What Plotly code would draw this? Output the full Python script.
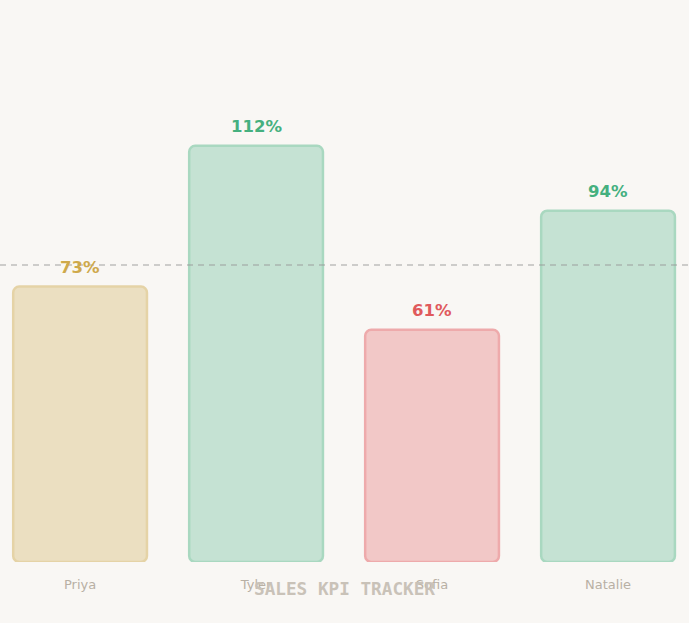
import plotly.graph_objects as go

# sales reps and attainment vs quota (%)
reps = ["Priya", "Tyler", "Sofia", "Natalie"]
attainment = [73, 112, 61, 94]
target = 79

fills = ["#ebdfc1", "#c5e2d3", "#f2c8c7", "#c5e2d3"]
borders = ["#e5d3a6", "#a9d8c0", "#eeaaab", "#a9d8c0"]
label_colors = ["#cfa94a", "#45b07f", "#e05a5c", "#45b07f"]

base = -3.3

fig = go.Figure()
fig.add_trace(go.Bar(
    x=reps,
    y=[v - base for v in attainment],
    base=base,
    width=0.76,
    marker=dict(color=fills, line=dict(color=borders, width=2.5), cornerradius=6),
    hoverinfo="skip",
))

# value labels above the bars
for rep, v, c in zip(reps, attainment, label_colors):
    fig.add_annotation(x=rep, y=v, text=f"{v}%", showarrow=False, yanchor="middle", yshift=19,
                       font=dict(family="DejaVu Sans", size=16.5, color=c, weight="bold"))

# target line
fig.add_hline(y=target, line=dict(color="rgba(150,150,150,0.45)", width=2, dash="6px,5px"), layer="above")

fig.update_layout(
    width=689, height=623,
    margin=dict(l=0, r=0, t=0, b=61),
    paper_bgcolor="#f9f7f4",
    plot_bgcolor="#f9f7f4",
    showlegend=False,
    title=dict(text="SALES KPI TRACKER", x=0.5, xanchor="center", y=1 - 589 / 623, yanchor="middle",
               yref="container",
               font=dict(family="DejaVu Sans Mono", size=17.7, color="#c9c2b8", weight="bold")),
    xaxis=dict(range=[-0.455, 3.46], showgrid=False, zeroline=False, showline=False,
               tickfont=dict(family="DejaVu Sans", size=13, color="#b8b0a4"), ticklabelstandoff=13),
    yaxis=dict(range=[-3.33, 152.4], visible=False),
)

fig.write_html("out.html", config={"displayModeBar": False},
               post_script="document.body.style.margin='0';")
